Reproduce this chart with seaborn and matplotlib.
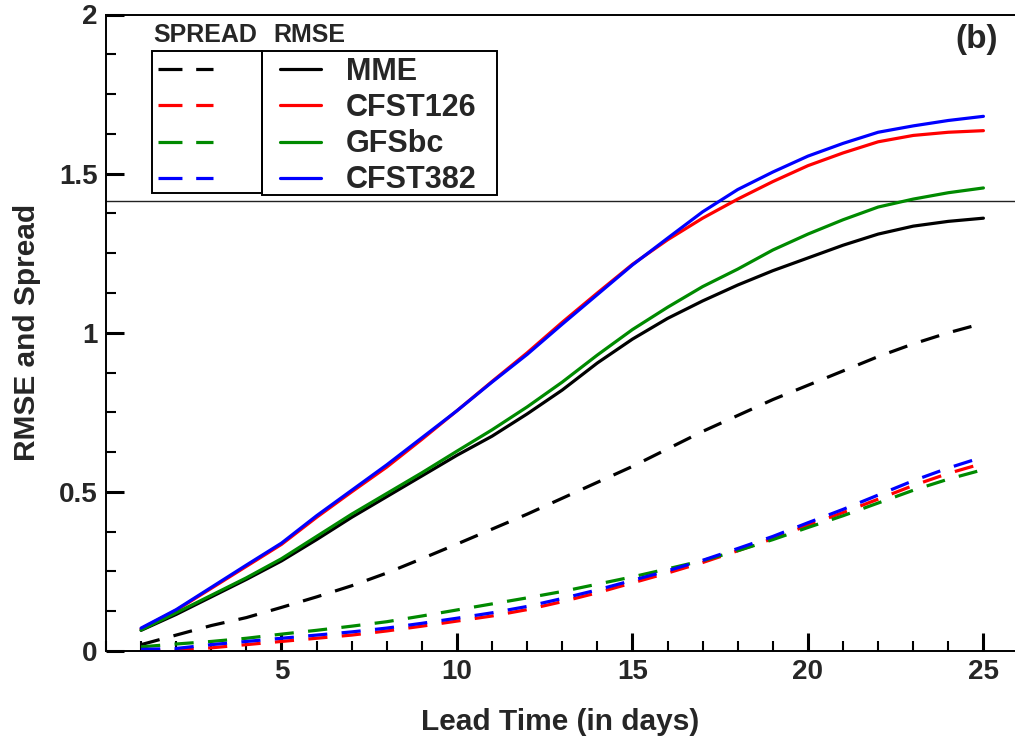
import numpy as np
import pandas as pd
import matplotlib
matplotlib.use("Agg")
import matplotlib.pyplot as plt
import seaborn as sns
from matplotlib.lines import Line2D
from matplotlib.patches import Rectangle
from matplotlib.ticker import MultipleLocator, FixedLocator

# ---------------- data ----------------
days = list(range(1, 26))
models = ["MME", "CFST126", "GFSbc", "CFST382"]
colors = ["#000000", "#ff0000", "#008a00", "#0000ff"]

rmse_mme = [0.065, 0.115, 0.17, 0.225, 0.283, 0.35, 0.42, 0.485, 0.55, 0.615,
            0.675, 0.745, 0.82, 0.905, 0.98, 1.045, 1.10, 1.15, 1.195, 1.235,
            1.275, 1.31, 1.335, 1.35, 1.36]
rmse_cfst126 = [0.07, 0.128, 0.197, 0.266, 0.335, 0.42, 0.50, 0.578, 0.665, 0.755,
                0.847, 0.937, 1.033, 1.125, 1.215, 1.292, 1.36, 1.42, 1.475, 1.525,
                1.565, 1.60, 1.62, 1.63, 1.635]
rmse_gfsbc = [0.066, 0.12, 0.175, 0.23, 0.29, 0.36, 0.43, 0.495, 0.56, 0.628,
              0.695, 0.767, 0.845, 0.93, 1.01, 1.08, 1.145, 1.20, 1.26, 1.31,
              1.355, 1.395, 1.42, 1.44, 1.455]
rmse_cfst382 = [0.072, 0.13, 0.20, 0.27, 0.339, 0.425, 0.505, 0.585, 0.67, 0.755,
                0.845, 0.932, 1.027, 1.12, 1.213, 1.297, 1.38, 1.45, 1.505, 1.555,
                1.595, 1.63, 1.65, 1.667, 1.68]

spread_mme = [0.02, 0.05, 0.08, 0.105, 0.137, 0.17, 0.205, 0.245, 0.29, 0.336,
              0.383, 0.43, 0.48, 0.53, 0.58, 0.635, 0.69, 0.74, 0.79, 0.835,
              0.88, 0.925, 0.965, 1.0, 1.03]
spread_cfst126 = [0.0, 0.003, 0.01, 0.02, 0.03, 0.04, 0.05, 0.063, 0.078, 0.094,
                  0.11, 0.13, 0.155, 0.183, 0.214, 0.245, 0.278, 0.315, 0.353, 0.395,
                  0.435, 0.477, 0.52, 0.558, 0.59]
spread_gfsbc = [0.013, 0.022, 0.03, 0.04, 0.053, 0.065, 0.078, 0.092, 0.11, 0.129,
                0.148, 0.167, 0.187, 0.21, 0.233, 0.258, 0.284, 0.315, 0.35, 0.388,
                0.425, 0.465, 0.505, 0.54, 0.57]
spread_cfst382 = [0.005, 0.008, 0.02, 0.03, 0.04, 0.05, 0.06, 0.072, 0.087, 0.103,
                  0.12, 0.14, 0.165, 0.192, 0.222, 0.252, 0.285, 0.322, 0.36, 0.403,
                  0.445, 0.49, 0.535, 0.575, 0.61]

x_ticks = [5, 10, 15, 20, 25]
y_ticks = [0, 0.5, 1, 1.5, 2]
y_tick_labels = ["0", "0.5", "1", "1.5", "2"]

rmse = {"MME": rmse_mme, "CFST126": rmse_cfst126, "GFSbc": rmse_gfsbc, "CFST382": rmse_cfst382}
spread = {"MME": spread_mme, "CFST126": spread_cfst126, "GFSbc": spread_gfsbc, "CFST382": spread_cfst382}

rows = []
for m in models:
    for d, v in zip(days, rmse[m]):
        rows.append((d, v, m, "RMSE"))
    for d, v in zip(days, spread[m]):
        rows.append((d, v, m, "SPREAD"))
df = pd.DataFrame(rows, columns=["day", "value", "model", "metric"])

# ---------------- style ----------------
sns.set_style("ticks")
plt.rcParams["font.family"] = ["Liberation Sans", "DejaVu Sans"]
plt.rcParams["font.weight"] = "bold"
plt.rcParams["axes.labelweight"] = "bold"

W, H = 1015, 739
fig = plt.figure(figsize=(W / 100, H / 100), dpi=100)
ax_left, ax_bottom, ax_top = 106, 651, 14.5
ax = fig.add_axes([ax_left / W, (H - ax_bottom) / H, (W - ax_left) / W, (ax_bottom - ax_top) / H])

LW = 2.3
sns.lineplot(data=df, x="day", y="value", hue="model", style="metric",
             hue_order=models, palette=dict(zip(models, colors)),
             style_order=["RMSE", "SPREAD"],
             dashes={"RMSE": "", "SPREAD": (6, 4.5)},
             linewidth=LW, legend=False, ax=ax, estimator=None, sort=False)

ax.axhline(np.sqrt(2), color="#222222", lw=1.0, zorder=1)

ax.set_xlim(0, 25.9)
ax.set_ylim(0, 2)
ax.xaxis.set_major_locator(FixedLocator(x_ticks))
ax.xaxis.set_minor_locator(MultipleLocator(1))
ax.yaxis.set_major_locator(FixedLocator(y_ticks))
ax.set_yticklabels(y_tick_labels)
ax.yaxis.set_minor_locator(MultipleLocator(0.125))

ax.tick_params(which="major", direction="in", length=13, width=2.2, labelsize=20, pad=6, color="black")
ax.tick_params(which="minor", direction="in", length=7.5, width=1.5, color="black")
ax.tick_params(axis="x", which="both", top=False)
ax.tick_params(axis="y", which="both", right=False)

for s in ["left", "bottom", "top"]:
    ax.spines[s].set_linewidth(1.4)
    ax.spines[s].set_color("black")
ax.spines["right"].set_visible(False)

ax.set_xlabel("Lead Time (in days)", fontsize=21.5, fontweight="bold", labelpad=16)
ax.set_ylabel("RMSE and Spread", fontsize=21.5, fontweight="bold", labelpad=13)

# ---------------- legends ----------------
def fx(px):
    return px / W

def fy(py):
    return 1 - py / H

spread_handles = [Line2D([], [], color=c, lw=LW, dashes=(7.5, 4.3)) for c in colors]
rmse_handles = [Line2D([], [], color=c, lw=LW) for c in colors]

LEG_FS = 22
leg1 = ax.legend(handles=spread_handles, labels=[" "] * 4, loc="upper left",
                 bbox_to_anchor=(fx(158), fy(57)), bbox_transform=fig.transFigure,
                 frameon=False, borderpad=0, borderaxespad=0, handlelength=1.8,
                 handletextpad=0, labelspacing=0.2, prop={"size": LEG_FS, "weight": "bold"})
ax.add_artist(leg1)
leg2 = ax.legend(handles=rmse_handles, labels=models, loc="upper left",
                 bbox_to_anchor=(fx(280), fy(57)), bbox_transform=fig.transFigure,
                 frameon=False, borderpad=0, borderaxespad=0, handlelength=1.35,
                 handletextpad=0.8, labelspacing=0.2, prop={"size": LEG_FS, "weight": "bold"})

fig.add_artist(Rectangle((fx(152), fy(193)), (262 - 152) / W, (193 - 51) / H,
                         transform=fig.transFigure, fill=False, ec="black", lw=1.4))
fig.add_artist(Rectangle((fx(262), fy(195)), (497 - 262) / W, (195 - 51) / H,
                         transform=fig.transFigure, fill=False, ec="black", lw=1.4))

fig.text(fx(153), fy(41.5), "SPREAD", fontsize=18, fontweight="bold", ha="left", va="baseline")
fig.text(fx(273), fy(41.5), "RMSE", fontsize=18, fontweight="bold", ha="left", va="baseline")
fig.text(fx(998), fy(24), "(b)", fontsize=24, fontweight="bold", ha="right", va="top")

fig.savefig("out.png", dpi=100)
